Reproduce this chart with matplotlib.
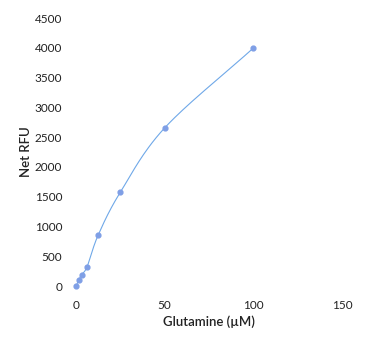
import numpy as np
import matplotlib
matplotlib.use('Agg')
import matplotlib.pyplot as plt

# glutamine standard curve
glutamine_um = [0, 1.5625, 3.125, 6.25, 12.5, 25, 50, 100]
net_rfu = [0, 100, 190, 325, 855, 1575, 2655, 3995]


def smooth_line(x, y, n=30):
    # catmull-rom style smoothing, like the excel "smoothed line" option
    x = np.asarray(x, float)
    y = np.asarray(y, float)
    px = np.concatenate([[2 * x[0] - x[1]], x, [2 * x[-1] - x[-2]]])
    py = np.concatenate([[2 * y[0] - y[1]], y, [2 * y[-1] - y[-2]]])
    xs, ys = [], []
    t = np.linspace(0, 1, n)
    for i in range(1, len(px) - 2):
        for p, out in ((px, xs), (py, ys)):
            p0, p1, p2, p3 = p[i - 1], p[i], p[i + 1], p[i + 2]
            out.extend(0.5 * ((2 * p1) + (-p0 + p2) * t
                              + (2 * p0 - 5 * p1 + 4 * p2 - p3) * t ** 2
                              + (-p0 + 3 * p1 - 3 * p2 + p3) * t ** 3))
    return xs, ys


plt.rcParams['font.family'] = ['Lato', 'DejaVu Sans']

fig = plt.figure(figsize=(3.89, 3.39), dpi=100)
ax = fig.add_axes([0.1954, 0.1563, 0.6838, 0.7906])

sx, sy = smooth_line(glutamine_um, net_rfu)
ax.plot(sx, sy, color='#6fa8e8', lw=0.8, clip_on=False)
ax.scatter(glutamine_um, net_rfu, s=12, color='#7f9fe6', zorder=3, clip_on=False)

ax.set_xlim(0, 150)
ax.set_ylim(0, 4500)
ax.set_xticks([0, 50, 100, 150])
ax.set_yticks(np.arange(0, 4501, 500))
for s in ax.spines.values():
    s.set_visible(False)
ax.tick_params(length=0, labelsize=8.5, colors='#222222')
ax.tick_params(axis='x', pad=10)
ax.tick_params(axis='y', pad=10)

ax.set_xlabel('Glutamine (\u00b5M)', fontsize=9.5, fontweight='semibold', color='#222222', labelpad=3)
ax.set_ylabel('Net RFU', fontsize=9.5, fontweight='semibold', color='#222222', labelpad=2)

fig.savefig('out.png', dpi=100)
